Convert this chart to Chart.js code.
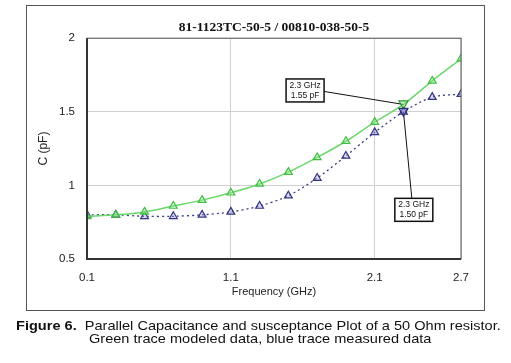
<!DOCTYPE html>
<html>
<head>
<meta charset="utf-8">
<script src="https://cdn.jsdelivr.net/npm/chart.js@4/dist/chart.umd.min.js"></script>
<style>
  html, body { margin: 0; padding: 0; background: #fff; }
  #wrap { position: relative; width: 511px; height: 363px; overflow: hidden; }
  #frame { position: absolute; left: 26px; top: 5px; width: 457px; height: 304px; border: 1px solid #555; box-sizing: content-box; }
  canvas { position: absolute; left: 0; top: 0; }
  .cap { position: absolute; font-family: Arial, "Liberation Sans", sans-serif; font-size: 13px; line-height: 15px; color: #111; white-space: pre; transform-origin: 0 50%; transform: scaleX(1.12); }
  #cap1 { left: 16px; top: 318px; }
  #cap2 { left: 89px; top: 331px; }
</style>
</head>
<body>
<div id="wrap">
  <div id="frame"></div>
  <canvas id="chart" width="511" height="363"></canvas>
  <div class="cap" id="cap1"><b>Figure 6.</b>  Parallel Capacitance and susceptance Plot of a 50 Ohm resistor.</div>
  <div class="cap" id="cap2">Green trace modeled data, blue trace measured data</div>
</div>
<script>
Chart.defaults.font.family = 'Arial, "Liberation Sans", sans-serif';
Chart.defaults.color = '#222';

const FREQ = [0.1, 0.3, 0.5, 0.7, 0.9, 1.1, 1.3, 1.5, 1.7, 1.9, 2.1, 2.3, 2.5, 2.7];
const MODELED = [0.79, 0.80, 0.82, 0.86, 0.90, 0.95, 1.01, 1.09, 1.19, 1.30, 1.43, 1.55, 1.71, 1.86];
const MEASURED = [0.80, 0.80, 0.79, 0.79, 0.80, 0.82, 0.86, 0.93, 1.05, 1.20, 1.36, 1.50, 1.60, 1.62];
const X_TICKS = [0.1, 1.1, 2.1, 2.7];
const Y_TICKS = [0.5, 1, 1.5, 2];

// callouts: point (x, y) and label box centre (bx, by), in data units
const CALLOUTS = [
    { x: 2.3, y: 1.55, bx: 1.616, by: 1.645, text: ['2.3 GHz', '1.55 pF'], side: 'right' },
    { x: 2.3, y: 1.50, bx: 2.372, by: 0.834, text: ['2.3 GHz', '1.50 pF'], side: 'top' }
];

const pts = (ys) => FREQ.map((f, i) => ({ x: f, y: ys[i] }));
// the modeled point at the callout is drawn only as the inverted marker
const greenRadius = FREQ.map(f => (f === CALLOUTS[0].x ? 0 : 4.5));

const framePlugin = {
    id: 'plotFrame',
    afterDatasetsDraw(chart) {
        const { ctx, chartArea: a, scales } = chart;
        const sx = scales.x, sy = scales.y;
        ctx.save();
        // callout markers, leader lines and boxes
        CALLOUTS.forEach(c => {
            const px = sx.getPixelForValue(c.x), py = sy.getPixelForValue(c.y);
            const bx = sx.getPixelForValue(c.bx), by = sy.getPixelForValue(c.by);
            const w = 38, h = 23;
            ctx.strokeStyle = '#111';
            ctx.lineWidth = 1;
            ctx.beginPath();
            if (c.side === 'right') ctx.moveTo(bx + w / 2, by + 1);
            else ctx.moveTo(bx - 2, by - h / 2);
            ctx.lineTo(px, py);
            ctx.stroke();
            // inverted triangle marker
            ctx.strokeStyle = c.side === 'right' ? '#2a9a2a' : '#2a2a7a';
            ctx.fillStyle = c.side === 'right' ? 'rgba(150,230,150,0.5)' : 'rgba(150,150,220,0.5)';
            ctx.lineWidth = 1.2;
            ctx.beginPath();
            ctx.moveTo(px - 4.5, py - 3.5);
            ctx.lineTo(px + 4.5, py - 3.5);
            ctx.lineTo(px, py + 4.5);
            ctx.closePath();
            ctx.fill();
            ctx.stroke();
            ctx.fillStyle = '#fff';
            ctx.fillRect(bx - w / 2, by - h / 2, w, h);
            ctx.strokeStyle = '#111';
            ctx.lineWidth = 1.5;
            ctx.strokeRect(bx - w / 2, by - h / 2, w, h);
            ctx.fillStyle = '#111';
            ctx.font = '8.5px Arial, "Liberation Sans", sans-serif';
            ctx.textAlign = 'center';
            ctx.textBaseline = 'middle';
            ctx.fillText(c.text[0], bx, by - 5);
            ctx.fillText(c.text[1], bx, by + 5);
        });
        // plot border
        ctx.strokeStyle = '#555';
        ctx.lineWidth = 1;
        ctx.strokeRect(a.left, a.top, a.right - a.left, a.bottom - a.top);
        ctx.strokeStyle = '#333';
        ctx.lineWidth = 2;
        ctx.beginPath();
        ctx.moveTo(a.left, a.top);
        ctx.lineTo(a.left, a.bottom);
        ctx.lineTo(a.right, a.bottom);
        ctx.stroke();
        ctx.restore();
    }
};

new Chart(document.getElementById('chart'), {
    type: 'line',
    data: {
        datasets: [
            {
                label: 'Modeled',
                data: pts(MODELED),
                borderColor: '#6ad86a',
                borderWidth: 1.5,
                pointStyle: 'triangle',
                pointRadius: greenRadius,
                pointBorderColor: '#3fbf3f',
                pointBackgroundColor: 'rgba(150,230,150,0.35)',
                pointBorderWidth: 1.2,
                tension: 0.3,
                fill: false
            },
            {
                label: 'Measured',
                data: pts(MEASURED),
                borderColor: '#3a3a8a',
                borderWidth: 1.3,
                borderDash: [2, 3],
                pointStyle: 'triangle',
                pointRadius: 4.5,
                pointBorderColor: '#33337f',
                pointBackgroundColor: 'rgba(150,150,220,0.35)',
                pointBorderWidth: 1.2,
                tension: 0.3,
                fill: false
            }
        ]
    },
    options: {
        responsive: false,
        animation: false,
        events: [],
        layout: { padding: { left: 30, right: 50, top: 0, bottom: 64 } },
        plugins: {
            legend: { display: false },
            tooltip: { enabled: false },
            title: {
                display: true,
                fullSize: false,
                text: '81-1123TC-50-5 / 00810-038-50-5',
                color: '#111',
                font: { family: '"Liberation Serif", "Times New Roman", serif', size: 13.5, weight: 'bold' },
                padding: { top: 19, bottom: 3 }
            }
        },
        scales: {
            x: {
                type: 'linear',
                min: 0.1,
                max: 2.7,
                afterBuildTicks: (s) => { s.ticks = X_TICKS.map(v => ({ value: v })); },
                afterFit: (s) => { s.height = 40; },
                grid: { color: '#cfcfcf', drawTicks: false },
                border: { display: false },
                ticks: { padding: 12, font: { size: 11.5 }, callback: (v) => v.toFixed(1) },
                title: { display: true, text: 'Frequency (GHz)', font: { size: 11 }, padding: { top: 1, bottom: 0 } }
            },
            y: {
                min: 0.5,
                max: 2,
                afterBuildTicks: (s) => { s.ticks = Y_TICKS.map(v => ({ value: v })); },
                afterFit: (s) => { s.width = 57; },
                grid: { color: '#cfcfcf', drawTicks: false },
                border: { display: false },
                ticks: { padding: 12, font: { size: 11.5 }, callback: (v) => String(v) },
                title: { display: true, text: 'C (pF)', font: { size: 12 }, padding: { top: 6, bottom: 0 } }
            }
        }
    },
    plugins: [framePlugin]
});
</script>
</body>
</html>
